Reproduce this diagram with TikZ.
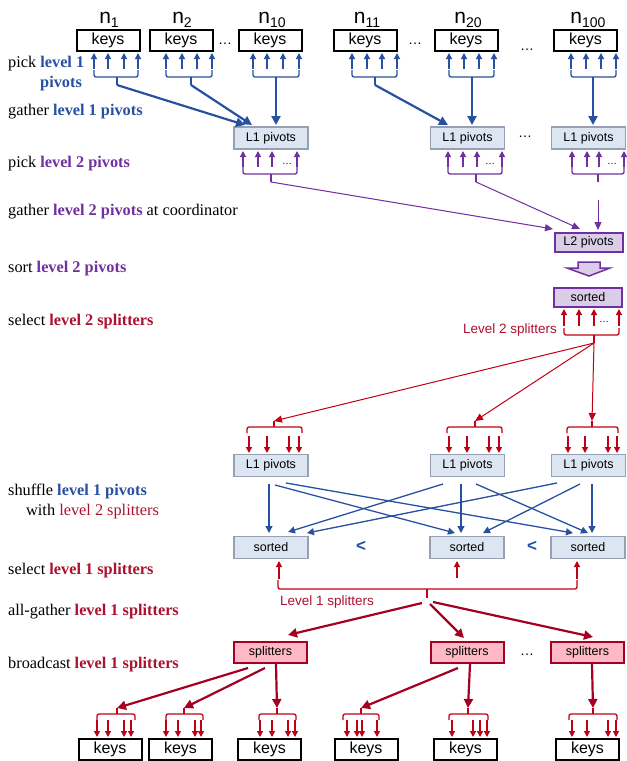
\documentclass[tikz,border=0pt]{standalone}
\usepackage{fontspec}
\setmainfont{Liberation Serif}
\setsansfont{Liberation Sans}
\usetikzlibrary{arrows.meta,calc}
\definecolor{blueC}{RGB}{40,80,160}
\definecolor{purpleC}{RGB}{112,48,160}
\definecolor{redT}{RGB}{170,18,48}
\definecolor{redA}{RGB}{192,0,20}
\definecolor{darkR}{RGB}{165,0,33}
\definecolor{lfill}{RGB}{220,230,242}
\definecolor{lborder}{RGB}{150,160,178}
\definecolor{pfill}{RGB}{218,205,232}
\definecolor{pinkfill}{RGB}{255,185,198}
\newcommand\brU[6]{\draw[#1,rounded corners=2pt] (#2,#5-7) -- (#2,#5) -- (#3,#5) -- (#3,#5-7); \draw[#1] (#4,#5) -- (#4,#5+8) coordinate (#6);}
\newcommand\brD[6]{\draw[#1,rounded corners=2pt] (#2,#5+6) -- (#2,#5) -- (#3,#5) -- (#3,#5+6); \draw[#1] (#4,#5) -- (#4,#5-6) coordinate (#6);}
\begin{document}
\begin{tikzpicture}[x=1pt,y=-1pt,
  keysbox/.style={draw=black,line width=2pt,minimum width=63pt,minimum height=21pt,inner sep=0pt,font=\sffamily\fontsize{16}{16}\selectfont},
  lbox/.style={draw=lborder,fill=lfill,line width=1.8pt,minimum width=74pt,minimum height=22pt,inner sep=0pt,font=\sffamily\fontsize{12.5}{13}\selectfont},
  pbox/.style={draw=purpleC,fill=pfill,line width=2pt,minimum width=68pt,minimum height=19pt,inner sep=0pt,font=\sffamily\fontsize{12.5}{13}\selectfont},
  sbox/.style={draw=darkR,fill=pinkfill,line width=2pt,minimum width=73pt,minimum height=21pt,inner sep=0pt,font=\sffamily\fontsize{12.5}{13}\selectfont},
  upB/.style={blueC,line width=1.3pt,-{Triangle[width=6pt,length=6pt]}},
  bB/.style={blueC,line width=1.3pt},
  gB/.style={blueC,line width=2.2pt,-{Triangle[width=9pt,length=9pt]}},
  shB/.style={blueC,line width=1.3pt,-{Triangle[width=7pt,length=7pt]}},
  upP/.style={purpleC,line width=1.3pt,-{Triangle[width=6pt,length=6pt]}},
  bP/.style={purpleC,line width=1.3pt},
  gP/.style={purpleC,line width=1pt,-{Triangle[width=7pt,length=8pt]}},
  upR/.style={redA,line width=1.3pt,-{Triangle[width=6pt,length=6pt]}},
  bR/.style={redA,line width=1.3pt},
  gR/.style={redA,line width=1pt,-{Triangle[width=7pt,length=8pt]}},
  gD/.style={darkR,line width=2.2pt,-{Triangle[width=9pt,length=9pt]}},
  lab/.style={anchor=base west,inner sep=0pt,font=\fontsize{16.3}{18}\selectfont},
  dots/.style={inner sep=0pt,font=\sffamily\fontsize{14}{14}\selectfont},
  sdots/.style={inner sep=0pt,font=\sffamily\fontsize{10}{10}\selectfont},
  nlab/.style={anchor=base,inner sep=0pt,font=\sffamily\fontsize{21}{21}\selectfont}
]
\useasboundingbox (0,0) rectangle (627,761);
% ---------- left labels ----------
\node[lab] (t1) at (8,67) {pick \textcolor{blueC}{\textbf{level 1}}};
\node[lab] (t1b) at (40,87) {\textcolor{blueC}{\textbf{pivots}}};
\node[lab] (t2) at (8,115) {gather \textcolor{blueC}{\textbf{level 1 pivots}}};
\node[lab] (t3) at (8,167) {pick \textcolor{purpleC}{\textbf{level 2 pivots}}};
\node[lab] (t4) at (8,215) {gather \textcolor{purpleC}{\textbf{level 2 pivots}} at coordinator};
\node[lab] (t5) at (8,272) {sort \textcolor{purpleC}{\textbf{level 2 pivots}}};
\node[lab] (t6) at (8,325) {select \textcolor{redT}{\textbf{level 2 splitters}}};
\node[lab] (t7) at (8,495) {shuffle \textcolor{blueC}{\textbf{level 1 pivots}}};
\node[lab] (t7b) at (26,515) {with \textcolor{redT}{level 2 splitters}};
\node[lab] (t8) at (8,574) {select \textcolor{redT}{\textbf{level 1 splitters}}};
\node[lab] (t9) at (8,615) {all-gather \textcolor{redT}{\textbf{level 1 splitters}}};
\node[lab] (t10) at (8,668) {broadcast \textcolor{redT}{\textbf{level 1 splitters}}};
% ---------- top keys ----------
\node[keysbox] (k1) at (108,40) {keys};
\node[keysbox] (k2) at (181,40) {keys};
\node[keysbox] (k3) at (270,40) {keys};
\node[keysbox] (k11) at (365,40) {keys};
\node[keysbox] (k20) at (466,40) {keys};
\node[keysbox] (k100) at (585.5,40) {keys};
\node[nlab] (n1) at (109,23) {n\raisebox{-4pt}{\fontsize{14}{14}\selectfont 1}};
\node[nlab] (n2) at (182,23) {n\raisebox{-4pt}{\fontsize{14}{14}\selectfont 2}};
\node[nlab] (n10) at (272,23) {n\raisebox{-4pt}{\fontsize{14}{14}\selectfont 10}};
\node[nlab] (n11) at (367,23) {n\raisebox{-4pt}{\fontsize{14}{14}\selectfont 11}};
\node[nlab] (n20) at (468,23) {n\raisebox{-4pt}{\fontsize{14}{14}\selectfont 20}};
\node[nlab] (n100) at (588,23) {n\raisebox{-4pt}{\fontsize{14}{14}\selectfont 100}};
\node[dots,anchor=base] (d1) at (225,44) {\ldots};
\node[dots,anchor=base] (d2) at (415,44) {\ldots};
\node[dots,anchor=base] (d3) at (527,50) {\ldots};
% pick level 1 pivots
\foreach \x in {94,108,124,138,166,182,197,212,253,267,283,299,352,367,382,397,449,464,479,494,571,586,601,616}
  \draw[upB] (\x,69) -- (\x,53);
\brU{bB}{94}{138}{117}{77}{s1}
\brU{bB}{166}{212}{191}{77}{s2}
\brU{bB}{253}{299}{276}{77}{s3}
\brU{bB}{352}{397}{375}{77}{s11}
\brU{bB}{449}{494}{472}{77}{s20}
\brU{bB}{571}{616}{593}{77}{s100}
% L1 pivots (top)
\node[lbox] (a1) at (271,138) {L1 pivots};
\node[lbox] (a2) at (467.5,138) {L1 pivots};
\node[lbox] (a3) at (588.5,138) {L1 pivots};
\node[dots,anchor=base] (d4) at (525,137) {\ldots};
\draw[gB] (s1) -- (245,125);
\draw[gB] (s2) -- (252,125);
\draw[gB] (s3) -- (276,125);
\draw[gB] (s11) -- (448,125);
\draw[gB] (s20) -- (472,125);
\draw[gB] (s100) -- (593,125);
% pick level 2 pivots
\foreach \x in {243,258,272,297,448,463,477,502,572,587,599,624}
  \draw[upP] (\x,167) -- (\x,151);
\node[sdots,anchor=base] at (287,164) {\ldots};
\node[sdots,anchor=base] at (490,164) {\ldots};
\node[sdots,anchor=base] at (612,164) {\ldots};
\brU{bP}{243}{297}{271}{174}{p1}
\brU{bP}{448}{502}{476}{174}{p2}
\brU{bP}{572}{624}{598}{174}{p3}
% L2 pivots
\node[pbox] (l2) at (588.5,242) {L2 pivots};
\coordinate (p3b) at (598,200);
\draw[gP] (p1) -- (553,229);
\draw[gP] (p2) -- (580,229);
\draw[gP] (p3b) -- (598,230);
% sort block arrow
\draw[purpleC,fill=pfill,line width=1.5pt,line join=miter] (578,262) -- (600,262) -- (600,268) -- (610,268) -- (589,276) -- (567,268) -- (578,268) -- cycle;
\node[pbox] (ps) at (588,297) {sorted};
% level 2 splitters
\foreach \x in {564,579,594,619}
  \draw[upR] (\x,326) -- (\x,309);
\node[sdots,anchor=base] at (604,322) {\ldots};
\brU{bR}{564}{619}{594}{335}{r2}
\node[anchor=east,inner sep=0pt,text=redT,font=\sffamily\fontsize{13.5}{14}\selectfont] (l2s) at (557,330) {Level 2 splitters};
% brackets above bottom L1 pivots
\brD{bR}{247}{302}{274}{427}{q1}
\brD{bR}{447}{502}{475}{427}{q2}
\brD{bR}{567}{618}{592}{427}{q3}
\foreach \x in {249,267,289,299,449,467,489,499,568,585,608,617}
  \draw[upR] (\x,436) -- (\x,453);
\draw[gR] (r2) -- (q1);
\draw[gR] (r2) -- (q2);
\draw[gR] (r2) -- (q3);
% bottom L1 pivots
\node[lbox] (b1) at (271,465.5) {L1 pivots};
\node[lbox] (b2) at (467.5,465.5) {L1 pivots};
\node[lbox] (b3) at (588.5,465.5) {L1 pivots};
% sorted
\node[lbox] (c1) at (271,547.5) {sorted};
\node[lbox] (c2) at (467,547.5) {sorted};
\node[lbox] (c3) at (588,547.5) {sorted};
\node[inner sep=0pt,text=blueC,font=\sffamily\bfseries\fontsize{17}{17}\selectfont] (lt1) at (361,546) {<};
\node[inner sep=0pt,text=blueC,font=\sffamily\bfseries\fontsize{17}{17}\selectfont] (lt2) at (532,546) {<};
% shuffle
\draw[shB] (269,484) -- (269,533);
\draw[shB] (275,485) -- (455,533);
\draw[shB] (286,483) -- (573,533);
\draw[shB] (443,484) -- (288,532);
\draw[shB] (461,484) -- (461,533);
\draw[shB] (476,484) -- (588,533);
\draw[shB] (557,483) -- (307,533);
\draw[shB] (580,484) -- (483,533);
\draw[shB] (592,484) -- (592,533);
% level 1 splitters
\draw[upR] (279,579) -- (279,561);
\draw[upR] (457,578) -- (457,561);
\draw[upR] (577,579) -- (577,561);
\draw[bR,rounded corners=2pt] (278,580) -- (278,589) -- (577,589) -- (577,580);
\draw[bR] (427,589) -- (427,598) coordinate (r1);
\node[inner sep=0pt,text=redT,font=\sffamily\fontsize{13.5}{14}\selectfont] (l1s) at (327,602) {Level 1 splitters};
% splitters boxes
\node[sbox] (e1) at (270.5,652) {splitters};
\node[sbox] (e2) at (467,652) {splitters};
\node[sbox] (e3) at (587.5,652) {splitters};
\node[dots,anchor=base] (d5) at (527,655) {\ldots};
\draw[gD] (422,603) -- (288,635);
\draw[gD] (430,604) -- (464,638);
\draw[gD] (433,602) -- (593,637);
% bottom brackets
\brD{bR}{97}{135}{117}{714}{f1}
\brD{bR}{166}{203}{184}{714}{f2}
\brD{bR}{259}{296}{277}{714}{f3}
\brD{bR}{343}{379}{361}{714}{f4}
\brD{bR}{449}{488}{468}{714}{f5}
\brD{bR}{569}{617}{593}{714}{f6}
\foreach \x in {97,108,124,131,166,178,195,201,260,272,288,295,347,357,362,377,452,473,480,487,572,587,608,616}
  \draw[upR] (\x,720) -- (\x,737);
\draw[gD] (248,668) -- (f1);
\draw[gD] (265,668) -- (f2);
\draw[gD] (276,664) -- (f3);
\draw[gD] (458,668) -- (f4);
\draw[gD] (470,664) -- (f5);
\draw[gD] (592,664) -- (f6);
% bottom keys
\node[keysbox] (g1) at (110,749) {keys};
\node[keysbox] (g2) at (180.5,749) {keys};
\node[keysbox] (g3) at (269.5,749) {keys};
\node[keysbox] (g4) at (366,749) {keys};
\node[keysbox] (g5) at (465.5,749) {keys};
\node[keysbox] (g6) at (587.5,749) {keys};
\end{tikzpicture}
\end{document}
